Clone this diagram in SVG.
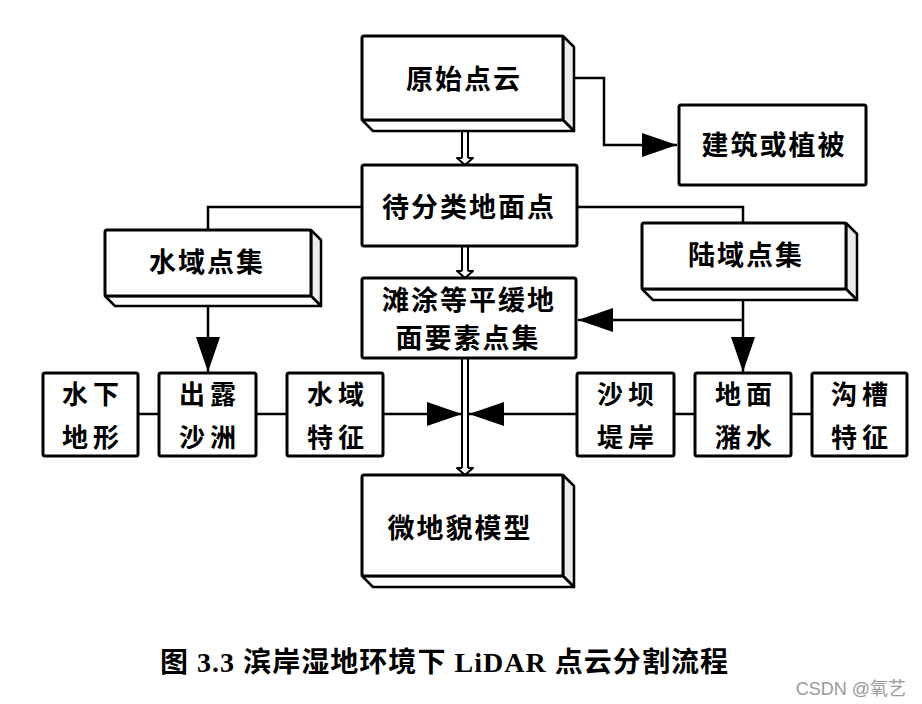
<svg xmlns="http://www.w3.org/2000/svg" width="922" height="704" viewBox="0 0 922 704">
<defs>
<style>
.box{fill:#fff;stroke:#000;stroke-width:3}
.side{fill:#fff;stroke:#000;stroke-width:2.5;stroke-linejoin:round}
.shade{fill:#ececec;stroke:#000;stroke-width:2.5;stroke-linejoin:round}
.t{font-family:"Noto Sans CJK SC","Noto Sans CJK JP",sans-serif;font-size:27px;font-weight:bold;text-anchor:middle;letter-spacing:2px;fill:#000}
.t2{font-family:"Noto Sans CJK SC","Noto Sans CJK JP",sans-serif;font-size:26px;font-weight:bold;text-anchor:middle;letter-spacing:5px;fill:#000}
.ln{stroke:#000;stroke-width:2.5;fill:none}
.dl{stroke:#000;stroke-width:2;fill:none}
.hh{stroke:#000;stroke-width:2;fill:#fff;stroke-linejoin:round}
</style>
<marker id="ah" markerUnits="userSpaceOnUse" markerWidth="36" markerHeight="26" refX="35" refY="12" orient="auto" viewBox="0 0 36 26">
<path d="M0,0 L35,12 L0,24 Z" fill="#000"/>
</marker>
</defs>
<rect width="922" height="704" fill="#fff"/>

<g id="connectors">
<path class="ln" d="M574,78 H604 V145 H677" marker-end="url(#ah)"/>
<path class="ln" d="M362,207 H208 V230"/>
<path class="ln" d="M577,207 H743 V223"/>
<path class="ln" d="M208,306 V372" marker-end="url(#ah)"/>
<path class="ln" d="M743,300 V372" marker-end="url(#ah)"/>
<path class="ln" d="M743,320 H578" marker-end="url(#ah)"/>
<path class="ln" d="M138,414 H159 M256,414 H287 M674,414 H695 M791,414 H812"/>
<path class="ln" d="M383,414 H462" marker-end="url(#ah)"/>
<path class="ln" d="M577,414 H469" marker-end="url(#ah)"/>
<path class="dl" d="M462,131 V158 M468,131 V158"/>
<path class="hh" d="M462,158 H457 L465,165 L473,158 H468"/>
<path class="dl" d="M462,246 V271 M468,246 V271"/>
<path class="hh" d="M462,271 H457 L465,278 L473,271 H468"/>
<path class="dl" d="M462,358 V468 M468,358 V468"/>
<path class="hh" d="M462,468 H457 L465,475 L473,468 H468"/>
</g>

<g id="n_yuanshi">
<path class="shade" d="M563,36 L574,47 V131 L563,120 Z"/>
<path class="side" d="M362,120 H563 L574,131 H373 Z"/>
<rect class="box" x="362" y="36" width="201" height="84" rx="2"/>
<text class="t" x="464" y="89">原始点云</text>
</g>

<g id="n_jianzhu">
<rect class="box" x="679" y="105" width="187" height="80" rx="2"/>
<text class="t" x="774" y="155">建筑或植被</text>
</g>

<g id="n_daifenlei">
<rect class="box" x="362" y="165" width="215" height="81" rx="2"/>
<text class="t" x="469" y="217">待分类地面点</text>
</g>

<g id="n_shuiyu">
<path class="shade" d="M311,230 L321,240 V306 L311,296 Z"/>
<path class="side" d="M105,296 H311 L321,306 H115 Z"/>
<rect class="box" x="105" y="230" width="206" height="66" rx="2"/>
<text class="t" x="207" y="272">水域点集</text>
</g>

<g id="n_luyu">
<path class="shade" d="M846,223 L857,234 V300 L846,289 Z"/>
<path class="side" d="M642,289 H846 L857,300 H653 Z"/>
<rect class="box" x="642" y="223" width="204" height="66" rx="2"/>
<text class="t" x="746" y="265">陆域点集</text>
</g>

<g id="n_tantu">
<rect class="box" x="362" y="278" width="214" height="80" rx="2"/>
<text class="t" x="469" y="310">滩涂等平缓地</text>
<text class="t" x="468" y="348">面要素点集</text>
</g>

<g id="n_shuixia">
<rect class="box" x="43" y="373" width="95" height="83" rx="2"/>
<text class="t2" x="93" y="404">水下</text>
<text class="t2" x="93" y="447">地形</text>
</g>
<g id="n_chulu">
<rect class="box" x="159" y="373" width="97" height="83" rx="2"/>
<text class="t2" x="210" y="404">出露</text>
<text class="t2" x="210" y="447">沙洲</text>
</g>
<g id="n_shuiyutz">
<rect class="box" x="287" y="373" width="96" height="83" rx="2"/>
<text class="t2" x="338" y="404">水域</text>
<text class="t2" x="338" y="447">特征</text>
</g>
<g id="n_shaba">
<rect class="box" x="577" y="373" width="97" height="83" rx="2"/>
<text class="t2" x="628" y="404">沙坝</text>
<text class="t2" x="628" y="447">堤岸</text>
</g>
<g id="n_dimian">
<rect class="box" x="695" y="373" width="96" height="83" rx="2"/>
<text class="t2" x="746" y="404">地面</text>
<text class="t2" x="746" y="447">潴水</text>
</g>
<g id="n_goucao">
<rect class="box" x="812" y="373" width="95" height="83" rx="2"/>
<text class="t2" x="862" y="404">沟槽</text>
<text class="t2" x="862" y="447">特征</text>
</g>

<g id="n_weidimao">
<path class="shade" d="M563,475 L574,486 V587 L563,576 Z"/>
<path class="side" d="M362,576 H563 L574,587 H373 Z"/>
<rect class="box" x="362" y="475" width="201" height="101" rx="2"/>
<text class="t" x="460" y="538">微地貌模型</text>
</g>

<text x="160" y="672" textLength="568" lengthAdjust="spacing" font-family="'Liberation Serif','Noto Sans CJK SC',serif" font-size="28" font-weight="bold" fill="#000">图 3.3 滨岸湿地环境下 LiDAR 点云分割流程</text>
<text x="906" y="695" text-anchor="end" font-family="'Liberation Sans','Noto Sans CJK SC',sans-serif" font-size="18" fill="#9a9a9a">CSDN @氧艺</text>
</svg>
